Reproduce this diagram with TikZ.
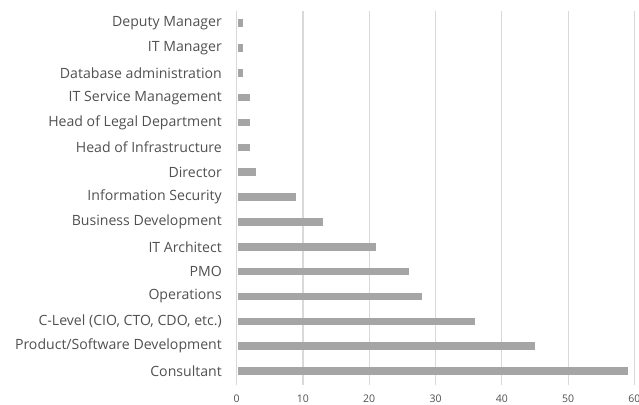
\documentclass[tikz,border=0pt]{standalone}
\usepackage{fontspec}
\setmainfont{Open Sans}
\definecolor{txt}{HTML}{505050}
\definecolor{gridc}{HTML}{D9D9D9}
\definecolor{barc}{HTML}{A5A5A5}
\tikzset{
  gridline/.style={draw=gridc, line width=1.2pt},
  barbox/.style={fill=barc, draw=none},
  catlabel/.style={anchor=east, inner sep=0pt, text=txt, font=\fontsize{14.1}{16}\selectfont},
  ticklabel/.style={anchor=center, inner sep=0pt, text=txt, font=\fontsize{10.5}{12}\selectfont}
}
\begin{document}
\begin{tikzpicture}[x=1pt,y=-1pt]
\useasboundingbox (0,0) rectangle (639,404);
\def\xo{236.6}
\def\sc{6.63}
\foreach \i in {0,...,6}{
  \draw[gridline] ({\xo+66.3*\i},11) -- ({\xo+66.3*\i},385);
  \pgfmathtruncatemacro{\tv}{10*\i}
  \node[ticklabel] (t\i) at ({\xo+66.3*\i},398.5) {\tv};
}
\foreach \lab/\v [count=\k from 0] in {
  {Deputy Manager~}/1,
  {IT Manager}/1,
  {Database administration}/1,
  {IT Service Management}/2,
  {Head of Legal Department~}/2,
  {Head of Infrastructure}/2,
  {Director}/3,
  {Information Security}/9,
  {Business Development}/13,
  {IT Architect}/21,
  {PMO}/26,
  {Operations}/28,
  {C-Level (CIO, CTO, CDO, etc.)}/36,
  {Product/Software Development}/45,
  {Consultant}/59}{
  \pgfmathsetmacro{\yy}{23+24.86*\k}
  \node[catlabel] (l\k) at (222,\yy) {\lab};
  \path[barbox] (\xo+1,\yy-3.8) rectangle ({\xo+\sc*\v},\yy+3.8);
}
\end{tikzpicture}
\end{document}
